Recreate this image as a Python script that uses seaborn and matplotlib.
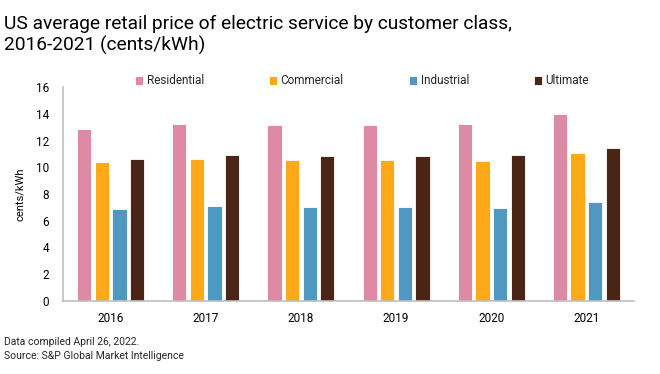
import matplotlib
matplotlib.use("Agg")
import matplotlib.pyplot as plt
import seaborn as sns
import pandas as pd

years = ["2016", "2017", "2018", "2019", "2020", "2021"]
classes = ["Residential", "Commercial", "Industrial", "Ultimate"]
residential = [12.86, 13.23, 13.16, 13.16, 13.26, 13.98]
commercial = [10.37, 10.64, 10.57, 10.54, 10.47, 11.04]
industrial = [6.90, 7.08, 7.05, 7.00, 6.93, 7.38]
ultimate = [10.59, 10.89, 10.84, 10.82, 10.89, 11.46]
colors = ["#DE8AA4", "#FDA918", "#4E98C1", "#4A2414"]

rows = []
for name, vals in zip(classes, [residential, commercial, industrial, ultimate]):
    for y, v in zip(years, vals):
        rows.append({"Year": y, "Class": name, "Value": v})
df = pd.DataFrame(rows)

sns.set_theme(style="white")
plt.rcParams["font.family"] = ["Roboto", "DejaVu Sans"]

fig = plt.figure(figsize=(6.6, 3.74), dpi=100)
ax = fig.add_axes([63/660, 1 - 301/374, 571/660, 214/374])
sns.barplot(data=df, x="Year", y="Value", hue="Class", palette=colors,
            order=years, hue_order=classes, width=0.74, gap=0.19,
            saturation=1, edgecolor="white", linewidth=0.6, ax=ax, legend=True)
ax.set_ylim(0, 16)
ax.set_yticks(range(0, 17, 2))
ax.set_xlim(-0.5, 5.5)
ax.set_xlabel("")
ax.set_ylabel("cents/kWh", fontsize=8, color="#000000", labelpad=8)
ax.tick_params(axis="both", length=0, labelsize=8.5, colors="#000000")
ax.tick_params(axis="x", pad=8)
ax.tick_params(axis="y", pad=10)
for s in ["top", "right"]:
    ax.spines[s].set_visible(False)
for s in ["left", "bottom"]:
    ax.spines[s].set_color("#BFBFBF")
    ax.spines[s].set_linewidth(1.2)

leg = ax.legend(loc="center", bbox_to_anchor=(362/660, 1 - 81/374),
                bbox_transform=fig.transFigure, ncol=4, frameon=False,
                fontsize=8.5, handlelength=0.7, handleheight=0.7,
                handletextpad=0.3, columnspacing=5.5)

fig.text(4/660, 1 - 15/374, "US average retail price of electric service by customer class,\n2016-2021 (cents/kWh)",
         fontsize=13.8, va="top", ha="left", color="#000000", linespacing=1.2)
fig.text(4/660, 1 - 342/374, "Data compiled April 26, 2022.", fontsize=7.5, va="center", ha="left")
fig.text(4/660, 1 - 356/374, "Source: S&P Global Market Intelligence", fontsize=7.5, va="center", ha="left")

fig.savefig("out.png", dpi=100)
